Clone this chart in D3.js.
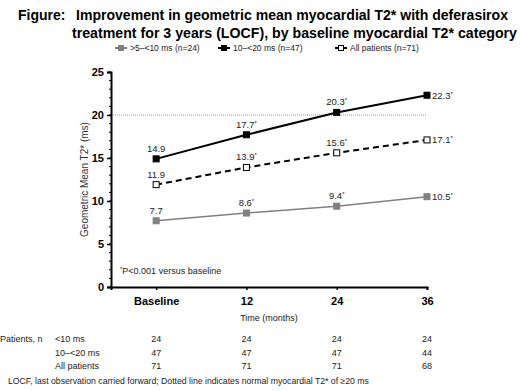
<!DOCTYPE html>
<html><head><meta charset="utf-8">
<script src="https://cdn.jsdelivr.net/npm/d3@7"></script>
<style>body{margin:0;background:#fff}svg{display:block}text{font-family:"Liberation Sans",Arial,sans-serif}</style>
</head><body><svg id="c" width="520" height="391"></svg>
<script>
const months = [0, 12, 24, 36];
const xTickLabels = ["Baseline", "12", "24", "36"];
const yTicks = [0, 5, 10, 15, 20, 25];
const seriesNames = [">5\u2013<10 ms (n=24)", "10\u2013<20 ms (n=47)", "All patients (n=71)"];
const lowValues = [7.7, 8.6, 9.4, 10.5];
const midValues = [14.9, 17.7, 20.3, 22.3];
const allValues = [11.9, 13.9, 15.6, 17.1];
const starred = [false, true, true, true];
const normalT2 = 20;
const tableRowNames = ["<10 ms", "10\u2013<20 ms", "All patients"];
const nLow = [24, 24, 24, 24];
const nMid = [47, 47, 47, 44];
const nAll = [71, 71, 71, 68];

const svg = d3.select("#c");
const x = d3.scaleLinear().domain([-6, 36]).range([111, 427]);
const y = d3.scaleLinear().domain([0, 25]).range([287, 72]);

// title
const title = svg.append("g").attr("font-weight", "bold").attr("font-size", 14).attr("fill", "#000");
title.append("text").attr("x", 18).attr("y", 20).text("Figure:");
title.append("text").attr("x", 76).attr("y", 20).attr("textLength", 432).attr("lengthAdjust", "spacingAndGlyphs")
  .text("Improvement in geometric mean myocardial T2* with deferasirox");
title.append("text").attr("x", 72).attr("y", 38).attr("textLength", 445).attr("lengthAdjust", "spacingAndGlyphs")
  .text("treatment for 3 years (LOCF), by baseline myocardial T2* category");

// normal line
svg.append("line").attr("x1", x(-6)).attr("x2", x(36)).attr("y1", y(normalT2)).attr("y2", y(normalT2))
  .attr("stroke", "#999").attr("stroke-width", 1).attr("stroke-dasharray", "1,1");

// axes
const yAxis = svg.append("g").attr("transform", `translate(${x(-6)},0)`)
  .call(d3.axisLeft(y).tickValues(yTicks).tickSize(4).tickFormat(d3.format("d")));
const xAxis = svg.append("g").attr("transform", `translate(0,${y(0)})`)
  .call(d3.axisBottom(x).tickValues(months).tickSize(3).tickFormat((d, i) => xTickLabels[i]));
[yAxis, xAxis].forEach(a => {
  a.select(".domain").attr("stroke-width", 2).attr("stroke", "#000");
  a.selectAll(".tick line").attr("stroke-width", 1.5);
  a.selectAll("text").attr("font-weight", "bold").attr("font-size", 11).attr("fill", "#000");
});
yAxis.selectAll("text").attr("x", -7);
xAxis.selectAll("text").attr("y", 10);
// y minor ticks
svg.append("g").selectAll("line").data(d3.range(0, 25.01, 1)).join("line")
  .attr("x1", x(-6) - 2).attr("x2", x(-6)).attr("y1", d => y(d)).attr("y2", d => y(d)).attr("stroke", "#000");

svg.append("text").attr("transform", `translate(88,${(y(0) + y(25)) / 2}) rotate(-90)`)
  .attr("text-anchor", "middle").attr("font-size", 10).attr("fill", "#333").text("Geometric Mean T2* (ms)");
svg.append("text").attr("x", x(15)).attr("y", 321).attr("text-anchor", "middle").attr("font-size", 9).attr("fill", "#222").text("Time (months)");

const series = [
  {vals: lowValues, color: "#808080", dash: null, fill: "#808080", w: 1.5},
  {vals: midValues, color: "#000", dash: null, fill: "#000", w: 2},
  {vals: allValues, color: "#000", dash: "6,4", fill: "#fff", w: 2}
];
const line = d3.line().x((d, i) => x(months[i])).y(d => y(d));
series.forEach(s => {
  svg.append("path").attr("d", line(s.vals)).attr("fill", "none").attr("stroke", s.color)
    .attr("stroke-width", s.w).attr("stroke-dasharray", s.dash);
  svg.append("g").selectAll("rect").data(s.vals).join("rect")
    .attr("x", (d, i) => x(months[i]) - 3).attr("y", d => y(d) - 3).attr("width", 6).attr("height", 6)
    .attr("fill", s.fill).attr("stroke", s.color).attr("stroke-width", 1);
  const lab = svg.append("g").attr("font-size", 9.5).attr("fill", "#222");
  s.vals.forEach((v, i) => {
    const last = i === s.vals.length - 1;
    const t = lab.append("text")
      .attr("x", last ? x(months[i]) + 5 : x(months[i]))
      .attr("y", last ? y(v) + 3.5 : y(v) - 7)
      .attr("text-anchor", last ? "start" : "middle");
    t.append("tspan").text(v.toFixed(1));
    if (starred[i]) t.append("tspan").attr("font-size", 6).attr("dy", -3).text("*");
  });
});

// legend
const leg = svg.append("g").attr("font-size", 8.5).attr("fill", "#222");
const legX = [115, 218, 335];
series.forEach((s, i) => {
  const lx = legX[i];
  leg.append("line").attr("x1", lx).attr("x2", lx + 12).attr("y1", 48).attr("y2", 48).attr("stroke", s.color).attr("stroke-width", 2);
  leg.append("rect").attr("x", lx + 3.5).attr("y", 45.5).attr("width", 5).attr("height", 5).attr("fill", s.fill).attr("stroke", s.color);
  leg.append("text").attr("x", lx + 15).attr("y", 51).text(seriesNames[i]);
});

// p-value note
const pn = svg.append("text").attr("x", 120).attr("y", 274).attr("font-size", 9).attr("fill", "#222");
pn.append("tspan").attr("font-size", 6).attr("dy", -3).text("*");
pn.append("tspan").attr("dy", 3).text("P<0.001 versus baseline");

// table
const tbl = svg.append("g").attr("font-size", 9).attr("fill", "#222");
tbl.append("text").attr("x", 0).attr("y", 342).text("Patients, n");
const rowsN = [nLow, nMid, nAll];
tableRowNames.forEach((r, ri) => {
  const yy = 342 + ri * 13.5;
  tbl.append("text").attr("x", 55).attr("y", yy).text(r);
  rowsN[ri].forEach((n, i) => {
    tbl.append("text").attr("x", x(months[i])).attr("y", yy).attr("text-anchor", "middle").text(n);
  });
});
svg.append("text").attr("x", 8).attr("y", 384).attr("font-size", 8.7).attr("fill", "#222")
  .text("LOCF, last observation carried forward; Dotted line indicates normal myocardial T2* of \u226520 ms");
</script></body></html>
